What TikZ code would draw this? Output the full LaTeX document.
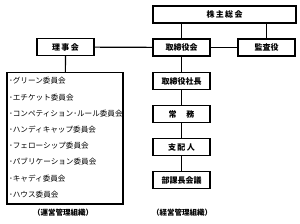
\documentclass[tikz,border=0pt]{standalone}
\usepackage{fontspec}
\newfontfamily\jpfont{Noto Sans CJK JP}
\tikzset{
  yakuin/.style={draw, line width=1.2pt, minimum width=57pt, minimum height=17pt,
    inner sep=0pt, font=\jpfont\bfseries\fontsize{8}{9}\selectfont},
  iin/.style={anchor=west, inner sep=0pt, font=\jpfont\fontsize{7.6}{8}\selectfont},
  soshiki/.style={inner sep=0pt, font=\jpfont\bfseries\fontsize{7.5}{8}\selectfont},
}
\begin{document}
\begin{tikzpicture}[x=1pt, y=1pt, line width=1.2pt]
  \useasboundingbox (0,0) rectangle (300,223);

  % 1. Boxes of the executive side
  \node[yakuin, minimum width=143pt] (kabunushi) at (224.5,208.5) {株\,主\,総\,会};
  \node[yakuin] (torikai) at (181.5,175.5) {取締役会};
  \node[yakuin] (kansa) at (266.5,175.5) {監査役};
  \node[yakuin] (shacho) at (181.5,142) {取締役社長};
  \node[yakuin] (jomu) at (181.5,109) {常\hspace{1.2em}務};
  \node[yakuin] (shihai) at (181.5,76) {支\,配\,人};
  \node[yakuin] (bukacho) at (181.5,43) {部課長会議};

  % 2. Board and committees
  \node[yakuin] (riji) at (65.5,176) {理\,事\,会};
  \node[draw, line width=1.2pt, minimum width=116pt, minimum height=131.5pt,
    inner sep=0pt] (iinkai) at (65,84.75) {};
  \foreach \i/\name in {0/グリーン委員会, 1/エチケット委員会,
      2/コンペティション･ルール委員会, 3/ハンディキャップ委員会,
      4/フェローシップ委員会, 5/パブリケーション委員会,
      6/キャディ委員会, 7/ハウス委員会}
    \node[iin] (iin\i) at (8.5,142-16.2*\i) {･\name};

  % 3. Connectors
  \draw (torikai) -- (torikai |- kabunushi.south);
  \draw (kansa) -- (kansa |- kabunushi.south);
  \draw (riji) -- (torikai);
  \draw (torikai) -- (kansa);
  \draw (torikai) -- (shacho) -- (jomu) -- (shihai) -- (bukacho);
  \draw (riji) -- (iinkai);

  % 4. Captions
  \node[soshiki] (unei) at (63,10) {（運営管理組織）};
  \node[soshiki] (keiei) at (182,10) {（経営管理組織）};

\end{tikzpicture}
\end{document}
